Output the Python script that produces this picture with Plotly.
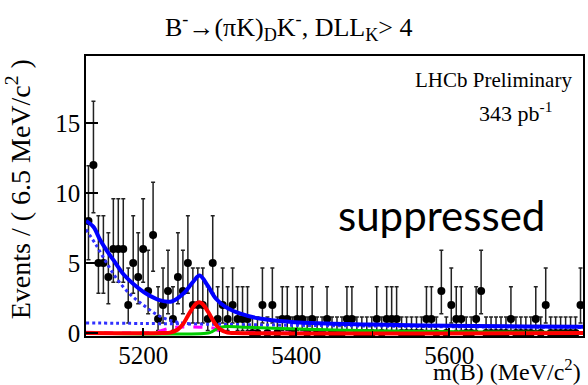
import numpy as np
import plotly.graph_objects as go

# ---- data ----
x_lo, bin_w = 5125.0, 6.5
counts = [8, 12, 5, 5, 4, 6, 6, 6, 2, 5,
          4, 6, 3, 7, 1, 2, 3, 1, 4, 3,
          5, 2, 2, 2, 1, 5, 1, 2, 1, 2,
          1, 1, 1, 0, 0, 2, 0, 2, 0, 1,
          1, 0, 1, 1, 0, 1, 0, 0, 1, 0,
          0, 0, 1, 1, 0, 0, 0, 0, 1, 0,
          1, 1, 1, 0, 0, 0, 0, 0, 1, 1,
          0, 3, 0, 2, 1, 1, 0, 0, 1, 3,
          0, 0, 0, 0, 0, 1, 0, 0, 0, 0,
          1, 0, 2, 0, 0, 0, 0, 0, 0, 2]
# Poisson (RooFit) 68% intervals per count
pois_lo = {0: 0.0, 1: 0.173, 2: 0.708, 3: 1.367, 4: 2.086, 5: 2.840, 6: 3.620, 7: 4.419, 8: 5.232, 12: 8.59}
pois_hi = {0: 1.147, 1: 3.300, 2: 4.638, 3: 5.918, 4: 7.163, 5: 8.382, 6: 9.584, 7: 10.77, 8: 11.95, 12: 16.55}

# total fit (blue solid)
tot_m = [5125, 5134.5, 5143, 5152, 5161, 5174, 5187, 5204, 5221, 5237, 5252, 5265, 5273.5,
         5284, 5295, 5308, 5326, 5352, 5378, 5421, 5500, 5600, 5700, 5775]
tot_y = [8.0, 7.6, 6.7, 5.9, 5.2, 4.2, 3.5, 2.8, 2.35, 2.25, 2.8, 3.65, 4.1,
         3.4, 2.45, 1.85, 1.4, 1.03, 0.86, 0.71, 0.6, 0.52, 0.47, 0.44]
# partially reconstructed background (blue dotted, descending)
prt_m = [5125, 5138, 5152, 5165, 5182, 5200, 5218, 5235, 5250, 5265]
prt_y = [7.4, 6.3, 5.0, 3.9, 2.8, 2.0, 1.3, 0.9, 0.72, 0.65]
# combinatorial background (blue dotted, flat)
cmb_m = [5125, 5200, 5300, 5400, 5500, 5600, 5775]
cmb_y = [0.72, 0.68, 0.62, 0.55, 0.5, 0.45, 0.4]
# signal (red)
sig_m = [5125, 5225, 5235, 5245, 5252, 5258, 5264, 5269, 5273, 5277, 5282, 5288, 5294, 5301, 5310, 5320, 5775]
sig_y = [0.0, 0.0, 0.03, 0.25, 0.65, 1.2, 1.75, 2.1, 2.2, 2.1, 1.75, 1.2, 0.65, 0.25, 0.03, 0.0, 0.0]
# green component
grn_m = [5125, 5285, 5290, 5298, 5305, 5330, 5380, 5450, 5550, 5650, 5775]
grn_y = [0.0, 0.0, 0.1, 0.35, 0.45, 0.42, 0.32, 0.22, 0.12, 0.07, 0.04]
# magenta dashed component
mag_m = [5125, 5215, 5228, 5240, 5275, 5292, 5302, 5330, 5775]
mag_y = [0.05, 0.06, 0.25, 0.4, 0.42, 0.35, 0.1, 0.03, 0.0]

xticks = [5200, 5400, 5600]
yticks = [0, 5, 10, 15]

# ---- figure ----
centers = x_lo + bin_w * (np.arange(len(counts)) + 0.5)
n = np.array(counts)
hi = np.array([pois_hi[c] for c in counts])
lo = np.array([pois_lo[c] for c in counts])

SERIF = "Liberation Serif"
fig = go.Figure()
fig.add_trace(go.Scatter(
    x=centers, y=n, mode="markers",
    marker=dict(color="black", size=8),
    error_y=dict(type="data", symmetric=False, array=hi - n, arrayminus=n - lo,
                 color="#222", thickness=1.5, width=2),
    showlegend=False))

def curve(m, y, color, width, dash="solid"):
    fig.add_trace(go.Scatter(x=m, y=y, mode="lines",
                             line=dict(color=color, width=width, dash=dash, shape="spline"),
                             showlegend=False))

curve(cmb_m, cmb_y, "#3030ff", 3, "dot")
curve(prt_m, prt_y, "#3030ff", 3, "dot")
curve(mag_m, mag_y, "#ff00ff", 3, "dash")
curve(grn_m, grn_y, "#00cc00", 3)
curve(sig_m, sig_y, "#ff0000", 4)
curve(tot_m, tot_y, "#0000ff", 4)

ann = [
    dict(text="B<sup>-</sup>→(πK)<sub>D</sub>K<sup>-</sup>, DLL<sub>K</sub>> 4",
         x=(289 - 86) / 499, y=(336 - 27) / 280, xanchor="center", yanchor="middle",
         font=dict(family=SERIF, size=26, color="black")),
    dict(text="LHCb Preliminary", x=(576 - 86) / 499, y=(336 - 80) / 280,
         xanchor="right", yanchor="middle", font=dict(family=SERIF, size=21, color="black")),
    dict(text="343 pb<sup>-1</sup>", x=(556 - 86) / 499, y=(336 - 112) / 280,
         xanchor="right", yanchor="middle", font=dict(family=SERIF, size=22, color="black")),
    dict(text="suppressed", x=(443 - 86) / 499, y=(336 - 215) / 280,
         xanchor="center", yanchor="middle", font=dict(family="Lato", size=42, color="black")),
    dict(text="Events / ( 6.5 MeV/c<sup>2</sup> )", textangle=-90,
         x=(18 - 86) / 499, y=(336 - 189) / 280, xanchor="center", yanchor="middle",
         font=dict(family=SERIF, size=28, color="black")),
    dict(text="m(B) (MeV/c<sup>2</sup>)", x=(585 - 86) / 499, y=(336 - 370) / 280,
         xanchor="right", yanchor="middle", font=dict(family=SERIF, size=24, color="black")),
]
for a in ann:
    a.update(xref="paper", yref="paper", showarrow=False)

fig.update_layout(
    width=588, height=385,
    margin=dict(l=86, r=3, t=56, b=49),
    paper_bgcolor="white", plot_bgcolor="white",
    annotations=ann,
    xaxis=dict(range=[x_lo, x_lo + bin_w * len(counts)], tickvals=xticks,
               ticktext=[str(v) for v in xticks],
               ticks="inside", ticklen=8, tickwidth=1.5, tickcolor="black",
               minor=dict(ticks="inside", ticklen=5, tickwidth=1, tickcolor="black", dtick=100),
               showline=True, linecolor="black", linewidth=1.5, mirror=True,
               showgrid=False, zeroline=False, ticklabelstandoff=-4,
               tickfont=dict(family=SERIF, size=25, color="black")),
    yaxis=dict(range=[-0.214, 19.79], tickvals=yticks, ticktext=[str(v) for v in yticks],
               ticks="inside", ticklen=12, tickwidth=1.5, tickcolor="black",
               showline=True, linecolor="black", linewidth=1.5, mirror=True,
               showgrid=False, zeroline=False, ticklabelstandoff=-1,
               tickfont=dict(family=SERIF, size=25, color="black")),
)
fig.write_html("out.html")
